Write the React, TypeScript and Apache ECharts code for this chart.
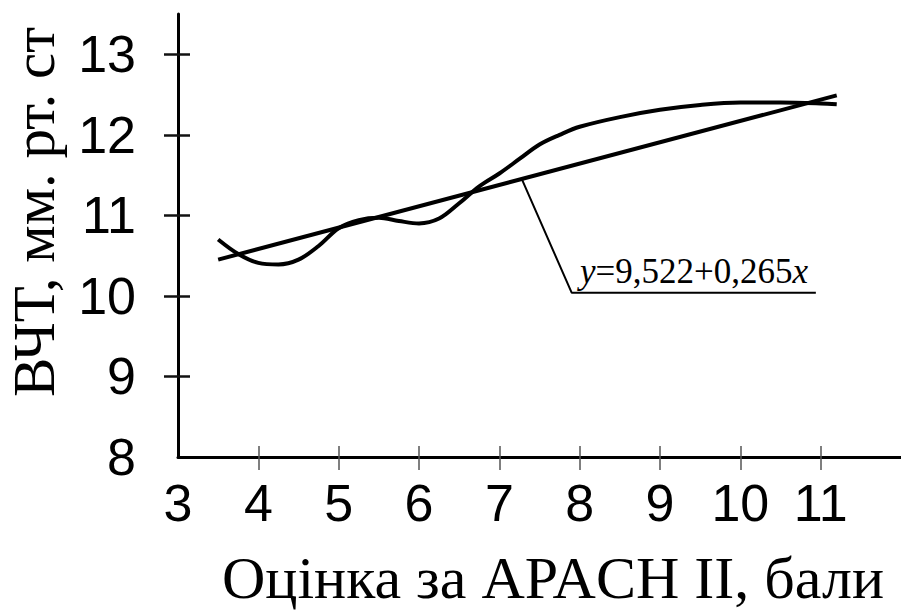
import React, { useEffect, useRef } from "react";
import * as echarts from "echarts";

const xLabelValues = [3, 4, 5, 6, 7, 8, 9, 10, 11];
const xTickValues = [4, 5, 6, 7, 8, 9, 10, 11];
const yLabelValues = [8, 9, 10, 11, 12, 13];
const yTickValues = [9, 10, 11, 12, 13];

const curveX = [3.5, 3.75, 4.0, 4.25, 4.5, 4.75, 5.0, 5.25, 5.5, 5.75, 6.0, 6.25, 6.5, 6.75, 7.0, 7.25, 7.5, 7.75, 8.0, 8.5, 9.0, 9.5, 10.0, 10.5, 11.0, 11.2];
const curveY = [10.7, 10.52, 10.41, 10.39, 10.45, 10.62, 10.84, 10.94, 10.97, 10.93, 10.9, 10.96, 11.15, 11.36, 11.52, 11.7, 11.88, 12.0, 12.1, 12.22, 12.31, 12.37, 12.4, 12.4, 12.39, 12.38];

// regression line endpoints
const regX = [3.5, 11.2];
const regY = [10.45, 12.49];

// annotation leader line
const leaderX = [7.28, 7.9, 10.94];
const leaderY = [11.45, 10.04, 10.04];

const xTitle = "Оцінка за APACH II, бали";
const yTitle = "ВЧТ, мм. рт. ст";

export default function App() {
  const ref = useRef<HTMLDivElement>(null);
  useEffect(() => {
    if (!ref.current) return;
    const chart = echarts.init(ref.current, null, { renderer: "svg" });
    const numFont = { fontFamily: "Liberation Sans", fontSize: 52, color: "#000" };
    const baseX = {
      type: "value",
      min: 3,
      max: 12,
      position: "bottom",
      splitLine: { show: false },
    };
    const baseY = {
      type: "value",
      min: 8,
      max: 13.5,
      position: "left",
      splitLine: { show: false },
    };
    chart.setOption({
      animation: false,
      backgroundColor: "#fff",
      grid: { left: 178, top: 14, width: 725, bottom: 155, containLabel: false },
      xAxis: [
        {
          ...baseX,
          axisLine: { show: true, lineStyle: { color: "#000", width: 3 } },
          axisTick: { show: true, inside: false, length: 13, customValues: xTickValues, lineStyle: { color: "#555", width: 1.5 } },
          axisLabel: { ...numFont, margin: 20, customValues: xLabelValues },
        },
        {
          ...baseX,
          axisLine: { show: false },
          axisTick: { show: true, inside: true, length: 11, customValues: xTickValues, lineStyle: { color: "#555", width: 1.5 } },
          axisLabel: { show: false },
        },
      ],
      yAxis: [
        {
          ...baseY,
          axisLine: { show: true, lineStyle: { color: "#000", width: 3 } },
          axisTick: { show: true, inside: false, length: 14, customValues: yTickValues, lineStyle: { color: "#111", width: 2.5 } },
          axisLabel: { ...numFont, margin: 42, customValues: yLabelValues },
        },
        {
          ...baseY,
          axisLine: { show: false },
          axisTick: { show: true, inside: true, length: 12, customValues: yTickValues, lineStyle: { color: "#111", width: 2.5 } },
          axisLabel: { show: false },
        },
      ],
      series: [
        {
          type: "line",
          smooth: 0.35,
          showSymbol: false,
          data: curveX.map((x, i) => [x, curveY[i]]),
          lineStyle: { color: "#000", width: 4 },
          silent: true,
        },
        {
          type: "line",
          showSymbol: false,
          data: regX.map((x, i) => [x, regY[i]]),
          lineStyle: { color: "#000", width: 4 },
          silent: true,
        },
        {
          type: "line",
          showSymbol: false,
          data: leaderX.map((x, i) => [x, leaderY[i]]),
          lineStyle: { color: "#000", width: 2 },
          silent: true,
        },
      ],
      graphic: [
        {
          type: "text",
          x: 553,
          y: 578,
          style: {
            text: xTitle,
            fontFamily: "Liberation Serif",
            fontSize: 60,
            fill: "#000",
            align: "center",
            verticalAlign: "middle",
          },
        },
        {
          type: "text",
          x: 34,
          y: 212,
          rotation: Math.PI / 2,
          style: {
            text: yTitle,
            fontFamily: "Liberation Serif",
            fontSize: 59,
            fill: "#000",
            align: "center",
            verticalAlign: "middle",
          },
        },
        {
          type: "text",
          x: 580,
          y: 271,
          style: {
            text: "{i|y}=9,522+0,265{i|x}",
            fontFamily: "Liberation Serif",
            fontSize: 35,
            fill: "#000",
            align: "left",
            verticalAlign: "middle",
            rich: {
              i: { fontFamily: "Liberation Serif", fontStyle: "italic", fontSize: 35, fill: "#000" },
            },
          },
        },
      ],
    });
    return () => chart.dispose();
  }, []);
  return <div ref={ref} style={{ position: "absolute", left: 0, top: 0, width: 901, height: 612 }} />;
}
